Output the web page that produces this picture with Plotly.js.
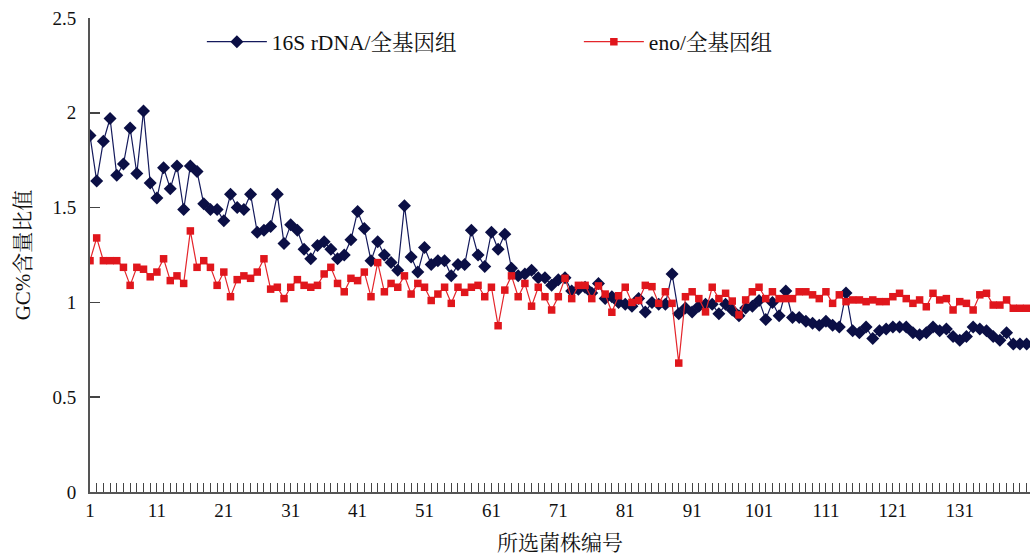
<!DOCTYPE html>
<html>
<head>
<meta charset="utf-8">
<script src="https://cdn.plot.ly/plotly-3.0.1.min.js"></script>
<style>html,body{margin:0;padding:0;background:#fff;}#chart{width:1030px;height:555px;}</style>
</head>
<body>
<div id="chart"></div>
<script>
// Strain index 1..141
const strainCount = 141;
const strains = Array.from({length: strainCount}, (_, k) => k + 1);

const seriesNames = ["16S rDNA/全基因组", "eno/全基因组"];

const ratio16S = [
  1.88, 1.64, 1.85, 1.97, 1.67, 1.73, 1.92, 1.68, 2.01, 1.63, 1.55, 1.71, 1.60, 1.72, 1.49, 1.72, 1.69, 1.52,
  1.49, 1.49, 1.43, 1.57, 1.50, 1.49, 1.57, 1.37, 1.38, 1.40, 1.57, 1.31, 1.41, 1.38, 1.28, 1.23, 1.30, 1.32,
  1.28, 1.23, 1.25, 1.33, 1.48, 1.39, 1.22, 1.32, 1.25, 1.21, 1.17, 1.51, 1.24, 1.16, 1.29, 1.20, 1.22, 1.22,
  1.14, 1.20, 1.20, 1.38, 1.25, 1.19, 1.37, 1.28, 1.36, 1.18, 1.14, 1.15, 1.17, 1.13, 1.13, 1.09, 1.12,
  1.13,
  1.06, 1.07, 1.08, 1.05, 1.10, 1.02, 1.03, 1.00, 0.99, 0.98, 1.02, 0.95, 1.00, 0.99, 0.99, 1.15,
  0.94, 0.97, 0.95, 0.98, 0.99, 0.99, 0.94, 0.99, 0.96, 0.93, 0.97, 0.98, 1.01, 0.91, 1.00, 0.93, 1.06, 0.92, 0.92, 0.90,
  0.89, 0.88, 0.90, 0.88, 0.87, 1.05, 0.85, 0.84, 0.87, 0.81, 0.85, 0.86, 0.87, 0.87, 0.87, 0.84, 0.83, 0.84,
  0.87, 0.85, 0.86, 0.82, 0.80, 0.82, 0.87, 0.86, 0.85, 0.82, 0.80, 0.84, 0.78, 0.78, 0.78
];

const ratioEno = [
  1.22, 1.34, 1.22, 1.22, 1.22, 1.185, 1.09, 1.185, 1.175, 1.135, 1.16, 1.23, 1.115, 1.14, 1.10, 1.377, 1.185, 1.22,
  1.185, 1.09, 1.16, 1.03, 1.12, 1.14, 1.127, 1.16, 1.23, 1.07, 1.08, 1.02, 1.08, 1.12, 1.09, 1.08, 1.09, 1.15,
  1.185, 1.10, 1.056, 1.127, 1.115, 1.16, 1.03, 1.21, 1.056, 1.10, 1.08, 1.14, 1.044, 1.10, 1.08, 1.01, 1.044, 1.08,
  0.995, 1.08, 1.053, 1.08, 1.09, 1.03, 1.08, 0.877, 1.065, 1.14, 1.03, 1.10, 0.98, 1.08, 1.03, 0.96, 1.03, 1.127,
  1.02, 1.09, 1.09, 1.02, 1.087, 1.044, 0.948, 1.035, 1.08, 1.00, 1.01, 1.09, 1.083, 0.995, 1.056, 0.995, 0.68,
  1.03, 1.056, 1.02, 0.95, 1.08, 1.02, 1.048, 1.007, 0.934, 1.013, 1.056, 1.08, 1.02, 1.056, 1.02, 1.02, 1.02, 1.056, 1.056,
  1.04, 1.02, 1.056, 0.995, 1.04, 1.004, 1.013, 1.013, 1.004, 1.013, 1.004, 1.004, 1.03, 1.048, 1.02, 0.995, 1.013, 0.977,
  1.048, 1.013, 1.02, 0.96, 1.004, 0.995, 0.96, 1.04, 1.048, 0.986, 0.986, 1.013, 0.969, 0.969, 0.969
];

const xTickVals = [1, 11, 21, 31, 41, 51, 61, 71, 81, 91, 101, 111, 121, 131];
const yTickVals = [0, 0.5, 1, 1.5, 2, 2.5];
const yTickText = ["0", "0.5", "1", "1.5", "2", "2.5"];

const serif = "Liberation Serif, Times New Roman, Noto Serif CJK SC, Noto Sans CJK SC, serif";

const traces = [
  {
    x: strains, y: ratio16S, name: seriesNames[0], type: "scatter", mode: "lines+markers",
    line: {color: "#141a5c", width: 1.2},
    marker: {symbol: "diamond", size: 10, color: "#0b0f45"}
  },
  {
    x: strains, y: ratioEno, name: seriesNames[1], type: "scatter", mode: "lines+markers",
    line: {color: "#e4252b", width: 1.2},
    marker: {symbol: "square", size: 7.5, color: "#e0161c"}
  }
];

const layout = {
  width: 1030, height: 555,
  margin: {l: 90, r: 0, t: 18, b: 63},
  paper_bgcolor: "#fff", plot_bgcolor: "#fff",
  font: {family: serif, size: 19, color: "#111"},
  showlegend: true,
  legend: {
    orientation: "h", x: 0.119, xanchor: "left", y: 0.95, yanchor: "middle",
    font: {family: serif, size: 21.5, color: "#111"},
    itemwidth: 60,
    entrywidth: 302, entrywidthmode: "pixels",
    bgcolor: "rgba(0,0,0,0)"
  },
  xaxis: {
    range: [1, 141.5],
    tickmode: "array", tickvals: xTickVals, ticktext: xTickVals.map(String),
    ticks: "inside", ticklen: 9, tickwidth: 1, tickcolor: "#444",
    minor: {dtick: 1, tick0: 1, ticks: "inside", ticklen: 9, tickwidth: 1, tickcolor: "#444"},
    showline: true, linecolor: "#555", linewidth: 2,
    showgrid: false, zeroline: false,
    tickfont: {family: serif, size: 19, color: "#111"},
    title: {text: "所选菌株编号", font: {family: serif, size: 21, color: "#111"}, standoff: 16}
  },
  yaxis: {
    range: [0, 2.5],
    tickmode: "array", tickvals: yTickVals, ticktext: yTickText,
    ticks: "inside", ticklen: 10, tickwidth: 1.5, tickcolor: "#444",
    showline: true, linecolor: "#555", linewidth: 2,
    showgrid: false, zeroline: false,
    tickfont: {family: serif, size: 19, color: "#111"},
    ticklabelstandoff: 8,
    title: {text: "GC%含量比值", font: {family: serif, size: 21, color: "#111"}, standoff: 16}
  }
};

Plotly.newPlot("chart", traces, layout, {displayModeBar: false, staticPlot: true});
</script>
</body>
</html>
